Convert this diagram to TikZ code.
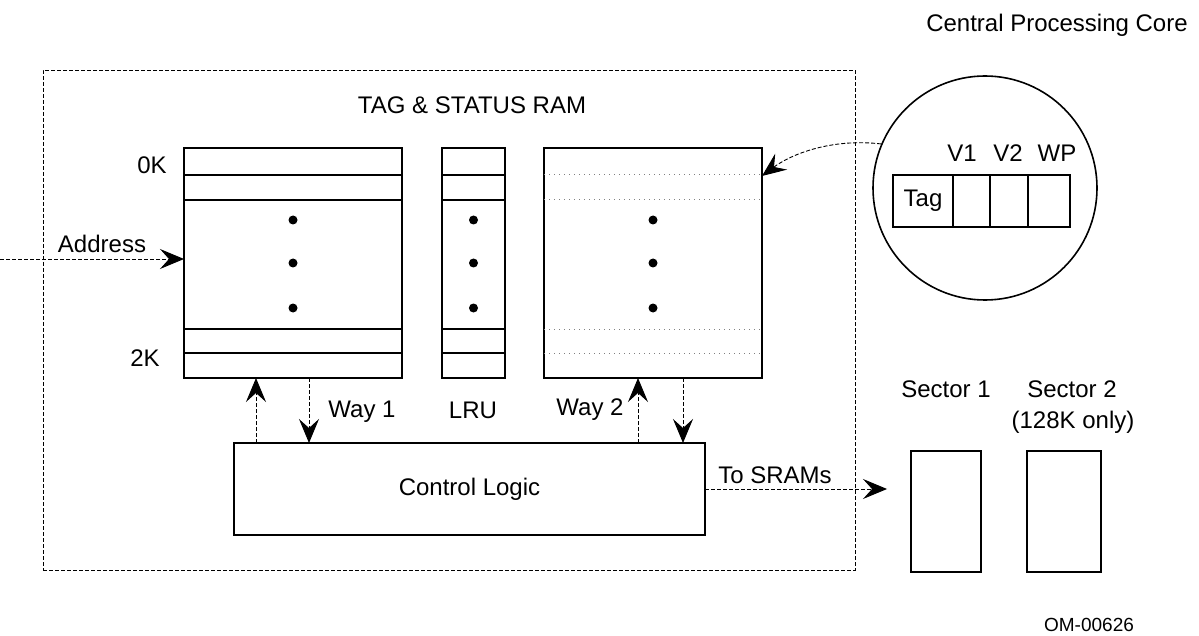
\documentclass[tikz,border=0pt]{standalone}
\usepackage{fontspec}
\setmainfont{Liberation Sans}
\usetikzlibrary{positioning,arrows.meta}

\begin{document}
\begin{tikzpicture}[x=0.5pt,y=-0.5pt,
font=\fontsize{12}{14}\selectfont,
box/.style={draw,line width=1.1pt,inner sep=0pt,outer sep=0pt},
cell/.style={draw,line width=0.7pt,inner sep=0pt,outer sep=0pt,minimum height=26pt},
lbl/.style={inner sep=0pt},
flow/.style={dash pattern=on 2pt off 1pt,line width=0.45pt,-{Stealth[length=12pt,width=10pt,inset=4.5pt]}},
dot/.style={circle,fill,inner sep=0pt,minimum size=4.5pt}]

\useasboundingbox (0,0) rectangle (1199,636);

\node[lbl](cpc) at (1057,25){Central Processing Core};
\node[draw,dash pattern=on 2pt off 1pt,line width=0.45pt,inner sep=0pt,outer sep=0pt,minimum width=406pt,minimum height=250pt](ram) at (449,320){};
\node[lbl](title) at (472,105){TAG \& STATUS RAM};

\node[box,minimum width=109pt,minimum height=115pt](way1) at (293,263){};
\node[box,minimum width=31.5pt,minimum height=115pt](lru) at (473.5,263){};
\node[box,minimum width=109pt,minimum height=115pt](way2) at (653,263){};

\foreach \y in {175,200,329,353}{
\draw[line width=1.1pt] (way1.west |- 0,\y) -- (way1.east |- 0,\y);
\draw[line width=1.1pt] (lru.west |- 0,\y) -- (lru.east |- 0,\y);
\draw[dotted,line width=0.5pt,gray] (way2.west |- 0,\y) -- (way2.east |- 0,\y);
}
\foreach \y in {220,263,308}{
\node[dot] at (way1 |- 0,\y){};
\node[dot] at (lru |- 0,\y){};
\node[dot] at (way2 |- 0,\y){};
}

\node[lbl](zero) at (152,165){0K};
\node[lbl](twok) at (145,358){2K};
\node[lbl](addr) at (102,244){Address};
\coordinate (addrin) at (0,259);
\draw[flow] (addrin) -- (way1.west |- addrin);

\node[lbl](w1lbl) at (362,412){Way 1};
\node[lbl](lrulbl) at (473,410){LRU};
\node[lbl](w2lbl) at (590,410){Way 2};

\node[box,line width=1pt,minimum width=235.5pt,minimum height=46pt](ctl) at (469.5,489){Control Logic};

\draw[flow] (ctl.north -| 256,0) -- (way1.south -| 256,0);
\draw[flow] (way1.south -| 309,0) -- (ctl.north -| 309,0);
\draw[flow] (ctl.north -| 638,0) -- (way2.south -| 638,0);
\draw[flow] (way2.south -| 683,0) -- (ctl.north -| 683,0);

\node[box,line width=1pt,minimum width=35pt,minimum height=60.5pt](sec1) at (946,511.5){};
\node[box,line width=1pt,minimum width=37pt,minimum height=60.5pt](sec2) at (1064,511.5){};
\node[lbl](s1lbl) at (946,389){Sector 1};
\node[lbl](s2lbl) at (1072,389){Sector 2};
\node[lbl](s2note) at (1073,422){(128K only)};

\node[lbl](tosram) at (775,475){To SRAMs};
\draw[flow,shorten >=12pt] (ctl.east) -- (ctl.east -| sec1.west);

\node[draw,circle,line width=0.8pt,minimum size=112pt](lens) at (985,188){};
\node[cell,minimum width=30pt](tag) at (923,201){Tag};
\node[cell,minimum width=18.5pt](v1)[right=0pt of tag]{};
\node[cell,minimum width=19pt](v2)[right=0pt of v1]{};
\node[cell,minimum width=21pt](wp)[right=0pt of v2]{};
\node[lbl](v1lbl) at (962,153){V1};
\node[lbl](v2lbl) at (1008,153){V2};
\node[lbl](wplbl) at (1057,153){WP};
\draw[flow] (lens.157) .. controls (830,138) and (790,155) .. (way2.east |- 0,176);

\node[lbl,font=\fontsize{9.5}{11}\selectfont](omref) at (1089,625){OM-00626};

\end{tikzpicture}
\end{document}
